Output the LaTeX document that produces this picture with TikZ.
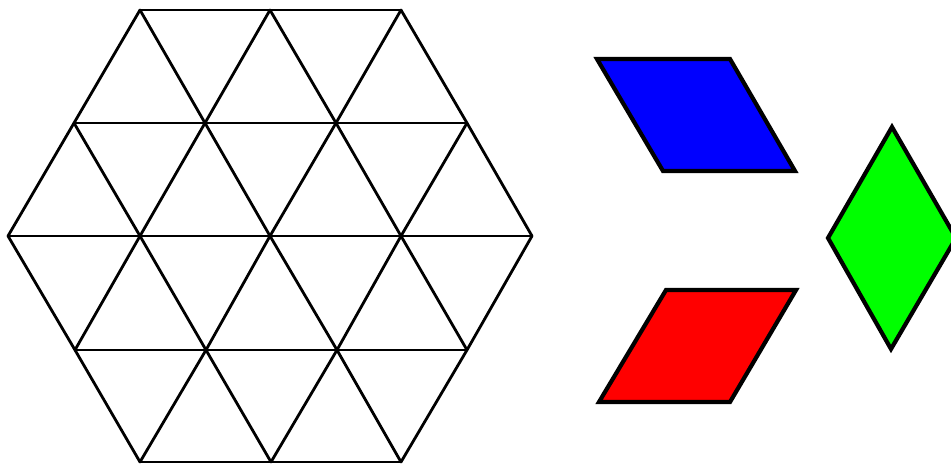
\documentclass[tikz,border=0pt]{standalone}
\begin{document}
\begin{tikzpicture}[x=1pt,y=-1pt,
  gridline/.style={line width=2.8pt,line join=round,line cap=round},
  tile/.style={line width=4.2pt,line join=miter,draw=black}]
\useasboundingbox (0,0) rectangle (951,464);
\clip (0,0) rectangle (951,464);
% vertices
\coordinate (A1) at (140,10); \coordinate (A2) at (270,10); \coordinate (A3) at (401,10);
\coordinate (B1) at (74,123); \coordinate (B2) at (205,123); \coordinate (B3) at (336,123); \coordinate (B4) at (467,123);
\coordinate (C1) at (8,236); \coordinate (C2) at (140,236); \coordinate (C3) at (270,236); \coordinate (C4) at (401,236); \coordinate (C5) at (532,236);
\coordinate (D1) at (75,350); \coordinate (D2) at (206,350); \coordinate (D3) at (337,350); \coordinate (D4) at (467,350);
\coordinate (E1) at (140,462); \coordinate (E2) at (271,462); \coordinate (E3) at (401,462);
% horizontals
\draw[gridline] (A1) -- (A3);
\draw[gridline] (B1) -- (B4);
\draw[gridline] (C1) -- (C5);
\draw[gridline] (D1) -- (D4);
\draw[gridline] (E1) -- (E3);
% / diagonals
\draw[gridline] (A1) -- (B1) -- (C1);
\draw[gridline] (A2) -- (B2) -- (C2) -- (D1);
\draw[gridline] (A3) -- (B3) -- (C3) -- (D2) -- (E1);
\draw[gridline] (B4) -- (C4) -- (D3) -- (E2);
\draw[gridline] (C5) -- (D4) -- (E3);
% \ diagonals
\draw[gridline] (A3) -- (B4) -- (C5);
\draw[gridline] (A2) -- (B3) -- (C4) -- (D4);
\draw[gridline] (A1) -- (B2) -- (C3) -- (D3) -- (E3);
\draw[gridline] (B1) -- (C2) -- (D2) -- (E2);
\draw[gridline] (C1) -- (D1) -- (E1);
% tiles
\coordinate (b1) at (597,59); \coordinate (b2) at (730,59); \coordinate (b3) at (795,171); \coordinate (b4) at (663,171);
\draw[tile,fill={rgb,255:red,0;green,0;blue,255}] (b1) -- (b2) -- (b3) -- (b4) -- cycle;
\coordinate (r1) at (666,290); \coordinate (r2) at (796,290); \coordinate (r3) at (730,402); \coordinate (r4) at (599,402);
\draw[tile,fill={rgb,255:red,255;green,0;blue,0}] (r1) -- (r2) -- (r3) -- (r4) -- cycle;
\coordinate (g1) at (892,127); \coordinate (g2) at (956,238); \coordinate (g3) at (891,349); \coordinate (g4) at (828,238);
\draw[tile,fill={rgb,255:red,0;green,255;blue,0}] (g1) -- (g2) -- (g3) -- (g4) -- cycle;
\end{tikzpicture}
\end{document}
